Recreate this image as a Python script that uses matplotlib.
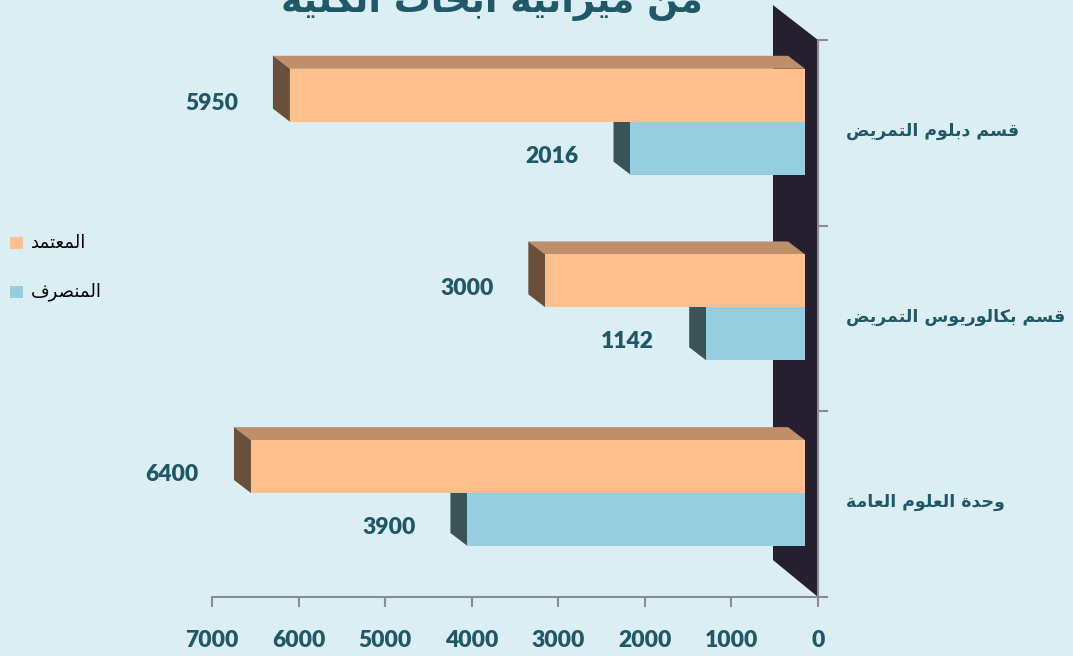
import matplotlib
matplotlib.use('Agg')
import matplotlib.pyplot as plt
from matplotlib.patches import Polygon, Rectangle

# ---------------- data ----------------
categories = ['وحدة العلوم العامة', 'قسم بكالوريوس التمريض', 'قسم دبلوم التمريض']  # bottom -> top
approved = [6400, 3000, 5950]   # المعتمد
spent = [3900, 1142, 2016]      # المنصرف
series_names = ['المعتمد', 'المنصرف']
title_text = 'من ميزانية ابحاث الكلية'
xticks = [0, 1000, 2000, 3000, 4000, 5000, 6000, 7000]

# ---------------- minimal Arabic shaping (presentation forms + RTL) ----------------
_DUAL = {'ب': 0xFE8F, 'ت': 0xFE95, 'ث': 0xFE99, 'ج': 0xFE9D, 'ح': 0xFEA1, 'خ': 0xFEA5,
         'س': 0xFEB1, 'ش': 0xFEB5, 'ص': 0xFEB9, 'ض': 0xFEBD, 'ط': 0xFEC1, 'ظ': 0xFEC5,
         'ع': 0xFEC9, 'غ': 0xFECD, 'ف': 0xFED1, 'ق': 0xFED5, 'ك': 0xFED9, 'ل': 0xFEDD,
         'م': 0xFEE1, 'ن': 0xFEE5, 'ه': 0xFEE9, 'ي': 0xFEF1, 'ئ': 0xFE89}
_RIGHT = {'ا': 0xFE8D, 'ة': 0xFE93, 'د': 0xFEA9, 'ذ': 0xFEAB, 'ر': 0xFEAD, 'ز': 0xFEAF,
          'و': 0xFEED, 'ى': 0xFEEF, 'أ': 0xFE83, 'إ': 0xFE87, 'آ': 0xFE81, 'ؤ': 0xFE85}
_LAM_ALEF = {'ا': 0xFEFB, 'أ': 0xFEF7, 'إ': 0xFEF9, 'آ': 0xFEF5}


def shape(text):
    tokens = []
    i = 0
    while i < len(text):
        c = text[i]
        if c == 'ل' and i + 1 < len(text) and text[i + 1] in _LAM_ALEF:
            tokens.append(('LA', text[i + 1]))
            i += 2
        else:
            tokens.append(c)
            i += 1

    def is_ar(t):
        return isinstance(t, tuple) or t in _DUAL or t in _RIGHT

    def joins_next(t):
        return (not isinstance(t, tuple)) and t in _DUAL

    res = []
    for k, t in enumerate(tokens):
        prev = tokens[k - 1] if k > 0 else None
        nxt = tokens[k + 1] if k + 1 < len(tokens) else None
        jp = prev is not None and joins_next(prev)
        if isinstance(t, tuple):
            res.append(chr(_LAM_ALEF[t[1]] + (1 if jp else 0)))
        elif t in _DUAL:
            jn = nxt is not None and is_ar(nxt)
            b = _DUAL[t]
            if jp and jn:
                res.append(chr(b + 3))
            elif jp:
                res.append(chr(b + 1))
            elif jn:
                res.append(chr(b + 2))
            else:
                res.append(chr(b))
        elif t in _RIGHT:
            res.append(chr(_RIGHT[t] + (1 if jp else 0)))
        else:
            res.append(t)
    return ''.join(reversed(res))


# ---------------- style ----------------
BG = '#DBEEF4'
TXT = '#215868'
WALL = '#261F30'
OR_FRONT, OR_TOP, OR_SIDE = '#FFC08F', '#BF8F6B', '#6A4F3A'
BL_FRONT, BL_TOP, BL_SIDE = '#96CEE0', '#5E8E9C', '#3A5358'
AXC = '#8C8C8C'
NUMFONT = 'Lato'
ARFONT = 'DejaVu Sans'

W, H = 1073, 656
fig = plt.figure(figsize=(W / 100, H / 100), dpi=100, facecolor=BG)
ax = fig.add_axes([212 / W, 1 - 597 / H, (818 - 212) / W, (597 - 40) / H])
ax.set_facecolor('none')
ax.set_xlim(7000, 0)
ax.set_ylim(0, 3)

# 3D geometry (data units)
X0 = 150       # front face offset from the wall front
DX = 196       # depth shift in x
DY = 0.07      # depth shift in y
BH = 0.285     # bar thickness
CEN = 0.56     # split between the two bars inside a category band

# back wall
ax.add_patch(Polygon([(0, 0), (0, 3), (520, 3.188), (520, 0.199)], closed=True,
                     facecolor=WALL, edgecolor='none', clip_on=False, zorder=1))


def bar3d(v, y0, front, top, side, z):
    y1 = y0 + BH
    xa, xb = X0, X0 + v
    ax.add_patch(Polygon([(xa, y1), (xb, y1), (xb + DX, y1 + DY), (xa + DX, y1 + DY)],
                         closed=True, facecolor=top, edgecolor='none', zorder=z, clip_on=False))
    ax.add_patch(Polygon([(xb, y0), (xb, y1), (xb + DX, y1 + DY), (xb + DX, y0 + DY)],
                         closed=True, facecolor=side, edgecolor='none', zorder=z, clip_on=False))
    ax.barh(y0, v, left=X0, height=BH, align='edge', color=front, edgecolor='none',
            zorder=z + 0.1, clip_on=False)


for i, (a, s) in enumerate(zip(approved, spent)):
    ys = i + CEN - BH
    ya = i + CEN
    bar3d(s, ys, BL_FRONT, BL_TOP, BL_SIDE, 2)
    bar3d(a, ya, OR_FRONT, OR_TOP, OR_SIDE, 3)
    for v, y0 in ((a, ya), (s, ys)):
        ax.annotate(f'{v}', xy=(X0 + v + DX, y0 + BH / 2), xytext=(-35, -8),
                    textcoords='offset pixels', ha='right', va='center',
                    fontsize=16.5, fontweight='heavy', color=TXT, family=NUMFONT, zorder=5)
    ax.text(1 + 28 / 606, i + 0.51, shape(categories[i]), transform=ax.get_yaxis_transform(),
            ha='left', va='center', fontsize=12.5, fontweight='bold', color=TXT, family=ARFONT)

# axes
for sp in ('top', 'left'):
    ax.spines[sp].set_visible(False)
for sp in ('bottom', 'right'):
    ax.spines[sp].set_color(AXC)
    ax.spines[sp].set_linewidth(1.5)
    ax.spines[sp].set_zorder(4)
ax.set_xticks(xticks)
ax.set_xticklabels([str(t) for t in xticks], fontsize=16.5, fontweight='heavy', color=TXT,
                   family=NUMFONT)
ax.tick_params(axis='x', direction='out', length=7, width=1.5, color=AXC, pad=17)
ax.yaxis.tick_right()
ax.set_yticks([0, 1, 2, 3])
ax.set_yticklabels([])
ax.tick_params(axis='y', direction='out', length=7, width=1.5, color=AXC)

# legend (manual)
leg_colors = [OR_FRONT, BL_FRONT]
leg_y = [243, 292]
for name, col, yc in zip(series_names, leg_colors, leg_y):
    fig.add_artist(Rectangle((10 / W, 1 - (yc + 6) / H), 13 / W, 12 / H,
                             transform=fig.transFigure, facecolor=col, edgecolor='none'))
    fig.text(31 / W, 1 - yc / H, shape(name), ha='left', va='center', fontsize=13,
             color='black', family=ARFONT)

# title (only its lower part is visible in the reference)
fig.text(492 / W, 1 - 12 / H, shape(title_text), ha='center', va='baseline', fontsize=26.5,
         fontweight='bold', color=TXT, family=ARFONT)

fig.savefig('out.png', dpi=100, facecolor=BG)
